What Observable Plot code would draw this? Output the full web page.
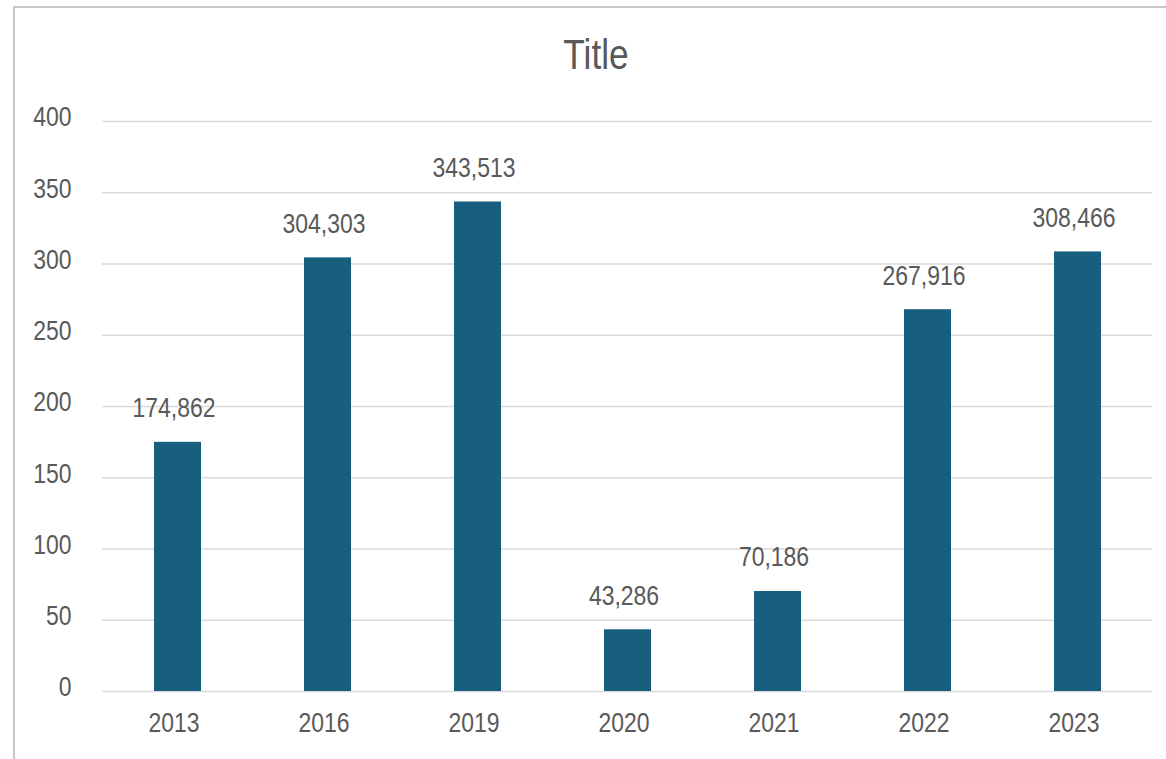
<!DOCTYPE html>
<html>
<head>
<meta charset="utf-8">
<script src="https://cdn.jsdelivr.net/npm/d3@7"></script>
<script src="https://cdn.jsdelivr.net/npm/@observablehq/plot@0.6"></script>
<style>
  html, body { margin: 0; padding: 0; background: #fff; width: 1166px; height: 759px; overflow: hidden; }
  body { position: relative; font-family: "Liberation Sans", Arial, sans-serif; }
  #chart { position: absolute; left: 0; top: 0; }
  #frame { position: absolute; left: 13px; top: 6px; width: 1200px; height: 800px; border: 2px solid #c6c6c6; z-index: 5; pointer-events: none; }
  #title { position: absolute; left: 446px; top: 33px; width: 300px; text-align: center; font-size: 43px; color: #595959; z-index: 6; line-height: 1; transform: scaleX(0.82); transform-origin: 50% 50%; }
</style>
</head>
<body>
<div id="chart"></div>
<div id="frame"></div>
<div id="title">Title</div>
<script>
const years = ["2013", "2016", "2019", "2020", "2021", "2022", "2023"];
const values = [174.862, 304.303, 343.513, 43.286, 70.186, 267.916, 308.466];
const valueLabels = ["174,862", "304,303", "343,513", "43,286", "70,186", "267,916", "308,466"];
const yTicks = [0, 50, 100, 150, 200, 250, 300, 350, 400];

const data = years.map((y, i) => ({year: y, value: values[i], label: valueLabels[i]}));

const font = '"Liberation Sans", Arial, sans-serif';
const textColor = "#595959";

const chart = Plot.plot({
  width: 1166,
  height: 759,
  marginLeft: 102,
  marginRight: 14,
  marginTop: 121,
  marginBottom: 68,
  style: {fontFamily: font, background: "transparent", color: textColor},
  x: {domain: years, paddingInner: 0.69, paddingOuter: 0.345, label: null},
  y: {domain: [0, 400], label: null},
  marks: [
    Plot.gridY(yTicks, {stroke: "#d9d9d9", strokeOpacity: 1, strokeWidth: 1.5}),
    Plot.barY(data, {x: "year", y: "value", fill: "#175e7f"}),
    Plot.text(data, {x: "year", y: "value", text: "label", dy: -34, dx: -4, fontSize: 28, fill: textColor, lineAnchor: "middle"}),
    Plot.axisY(yTicks, {tickSize: 0, tickPadding: 31, fontSize: 28, fill: textColor, dy: -4, label: null}),
    Plot.axisX({tickSize: 0, tickPadding: 21, dx: -4, fontSize: 28, fill: textColor, label: null})
  ]
});
document.getElementById("chart").appendChild(chart);
// narrow the glyphs to mimic a condensed face
chart.querySelectorAll("text").forEach(t => {
  const len = t.getComputedTextLength();
  if (len > 0) {
    t.setAttribute("textLength", (len * 0.82).toFixed(2));
    t.setAttribute("lengthAdjust", "spacingAndGlyphs");
  }
});
</script>
</body>
</html>
